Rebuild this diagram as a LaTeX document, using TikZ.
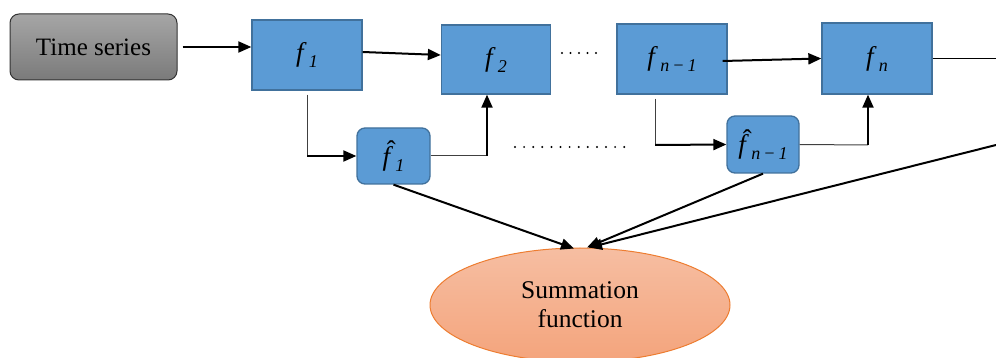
\documentclass[tikz,border=0pt]{standalone}
\usepackage{fontspec}
\setmainfont{Liberation Serif}
\usetikzlibrary{arrows.meta,shapes.geometric,calc}
\definecolor{boxblue}{HTML}{5B9BD5}
\definecolor{boxborder}{HTML}{41719C}
\definecolor{sumtop}{HTML}{F6BEA2}
\definecolor{sumbot}{HTML}{F4A47C}
\definecolor{sumborder}{HTML}{ED7D31}
\newcommand\fsym[1]{{\fontsize{27}{27}\selectfont\itshape f\hspace{0.2em}\raisebox{-6pt}{\fontsize{18}{18}\selectfont #1}}}
\newcommand\fhatsym[1]{{\fontsize{27}{27}\selectfont\itshape\makebox[0pt][l]{\hspace{0.16em}\raisebox{0.2em}{\upshape\char"02C6}}f\hspace{0.2em}\raisebox{-6pt}{\fontsize{18}{18}\selectfont #1}}}
\begin{document}
\begin{tikzpicture}[x=1pt,y=-1pt,
  fbox/.style={draw=boxborder,fill=boxblue,line width=1.3pt,minimum width=110pt,minimum height=70pt,inner sep=0pt},
  hbox/.style={draw=boxborder,fill=boxblue,line width=1.3pt,rounded corners=8pt,minimum width=72pt,minimum height=56pt,inner sep=0pt},
  arr/.style={line width=2pt,-{Triangle[length=13pt,width=11pt]}},
  thinline/.style={line width=1pt,draw=black!75},
  dotmark/.style={fill=black,draw=none}]
\useasboundingbox (0,0) rectangle (996,358);
% nodes
\node[draw=black!80,line width=1pt,rounded corners=9pt,top color=black!35,bottom color=black!52,minimum width=167pt,minimum height=66pt,inner sep=0pt,font=\fontsize{25}{25}\selectfont] (ts) at (93.5,47) {Time series};
\node[fbox] (f1) at (307,55) {\fsym{1}};
\node[fbox,minimum width=109pt,minimum height=69pt] (f2) at (496,59.5) {\fsym{2}};
\node[fbox] (fn1) at (672,59) {\fsym{n\,−\,1}};
\node[fbox,minimum height=71pt] (fn) at (877,58.5) {\fsym{n}};
\node[hbox,minimum width=73pt] (h1) at (393.5,156) {\fhatsym{1}};
\node[hbox,minimum height=57pt] (hn1) at (763,144.5) {\fhatsym{n\,−\,1}};
\node[ellipse,draw=sumborder,line width=1pt,top color=sumtop,bottom color=sumbot,minimum width=300pt,minimum height=114pt,inner sep=0pt,align=center,font=\fontsize{25.5}{29}\selectfont] (sum) at (580,305) {Summation\\function};
% free ends
\coordinate (outR) at (996,58.5);
\coordinate (outR2) at (996,145);
\coordinate (c1) at (307,156);
\coordinate (c2) at (487,156);
\coordinate (c3) at (655,145);
\coordinate (c4) at (868,145);
% top chain
\draw[arr] ([xshift=5pt]ts.east) -- (ts.east -| f1.west);
\draw[arr] ([yshift=3pt]f1.east) -- ([yshift=4.5pt]f2.west);
\draw[arr] ([xshift=-5pt,yshift=-2pt]fn1.east) -- (fn.west);
\draw[line width=1.5pt] (fn.east) -- (outR);
% side branches
\draw[thinline] ([yshift=-4pt]f1.south) -- (c1);
\draw[arr] (c1) -- (h1.west);
\draw[thinline] (h1.east) -- (c2);
\draw[arr] (c2) -- ([xshift=-9pt]f2.south);
\draw[thinline] ([xshift=-17pt,yshift=-4pt]fn1.south) -- (c3);
\draw[arr] (c3) -- (hn1.west);
\draw[thinline] (hn1.east) -- (c4);
\draw[arr] (c4) -- ([xshift=-9pt]fn.south);
% to summation
\draw[arr] (h1.south) -- ([xshift=-6pt,yshift=-1pt]sum.north);
\draw[arr] (hn1.south) -- ([xshift=7pt]sum.north);
\draw[arr] (outR2) -- ([xshift=9pt]sum.north);
% dots
\foreach \i in {0,...,4} \fill[dotmark] (562+8.5*\i,53) circle (1.1pt);
\foreach \i in {0,...,12} \fill[dotmark] (515+9.1*\i,147) circle (1.1pt);
\end{tikzpicture}
\end{document}
